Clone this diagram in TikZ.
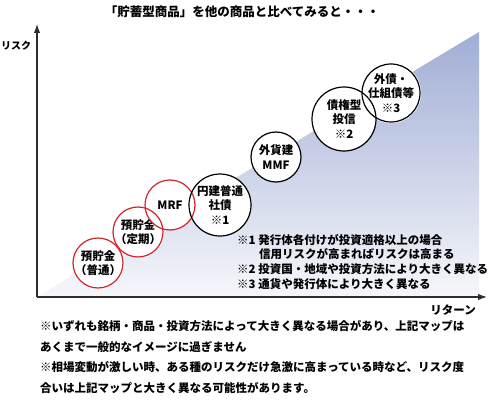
\documentclass[tikz,border=0pt]{standalone}
\usepackage{fontspec}
\setmainfont{Noto Sans CJK JP}
\usetikzlibrary{arrows.meta}
\definecolor{RiskRed}{RGB}{210,35,45}
\definecolor{MapBlue}{RGB}{160,173,213}
\definecolor{MapLight}{RGB}{246,247,251}
\definecolor{AxisGray}{RGB}{45,45,45}

\begin{document}
\begin{tikzpicture}[x=1pt,y=-1pt,
    prod/.style={circle,fill=white,inner sep=0pt,minimum size=#1,align=center,
      font=\fontsize{11.5}{14.5}\selectfont\bfseries},
    note/.style={anchor=west,inner sep=0pt,font=\fontsize{11.5}{14}\selectfont\bfseries},
    axis/.style={AxisGray,line width=1.3pt,-{Latex[length=9pt,width=6.5pt]}}]
  \useasboundingbox (0,0) rectangle (489,417);
  % risk/return area
  \shade[top color=MapBlue,bottom color=MapLight] (37,297) -- (479,32) -- (479,297) -- cycle;
  \coordinate (origin) at (37,297);
  \coordinate (riskend) at (37,24);
  \coordinate (retend) at (487,297);
  \draw[axis] (origin) -- (riskend);
  \draw[axis] (origin) -- (retend);
  \node[font=\fontsize{12.5}{15}\selectfont\bfseries] (title) at (242,12) {「貯蓄型商品」を他の商品と比べてみると・・・};
  \node[note,font=\fontsize{10}{12}\selectfont\bfseries] (risk) at (1,46) {リスク};
  \node[note,anchor=east] (ret) at (476,310) {リターン};
  % products
  \node[prod=50pt] (dep1) at (98,263) {預貯金\\（普通）};
  \node[prod=50pt] (dep2) at (138,232) {預貯金\\（定期）};
  \node[prod=50pt] (mrf) at (170,205) {MRF};
  \node[prod=62pt] (yenbond) at (220,205) {円建普通\\社債\\※1};
  \node[prod=50pt] (fxmmf) at (276,157) {外貨建\\MMF};
  \node[prod=64pt] (bondfund) at (344,119) {債権型\\投信\\※2};
  \node[prod=58pt] (fxbond) at (391,93) {外債・\\仕組債等\\※3};
  \foreach \n/\r/\c in {dep1/25/RiskRed,dep2/25/RiskRed,mrf/25/RiskRed,yenbond/31/black,
      fxmmf/25/black,bondfund/32/black,fxbond/29/black}
    \draw[\c,line width=1.2pt] (\n.center) circle[radius=\r];
  % notes
  \node[note] (n1) at (237,240) {※1 発行体各付けが投資適格以上の場合};
  \node[note] (n1b) at (259,254) {信用リスクが高まればリスクは高まる};
  \node[note] (n2) at (237,269) {※2 投資国・地域や投資方法により大きく異なる};
  \node[note] (n3) at (237,284) {※3 通貨や発行体により大きく異なる};
  \node[note] (c1) at (40,326) {※いずれも銘柄・商品・投資方法によって大きく異なる場合があり、上記マップは};
  \node[note] (c2) at (40,347) {あくまで一般的なイメージに過ぎません};
  \node[note] (c3) at (40,367) {※相場変動が激しい時、ある種のリスクだけ急激に高まっている時など、リスク度};
  \node[note] (c4) at (40,388) {合いは上記マップと大きく異なる可能性があります。};
\end{tikzpicture}
\end{document}
